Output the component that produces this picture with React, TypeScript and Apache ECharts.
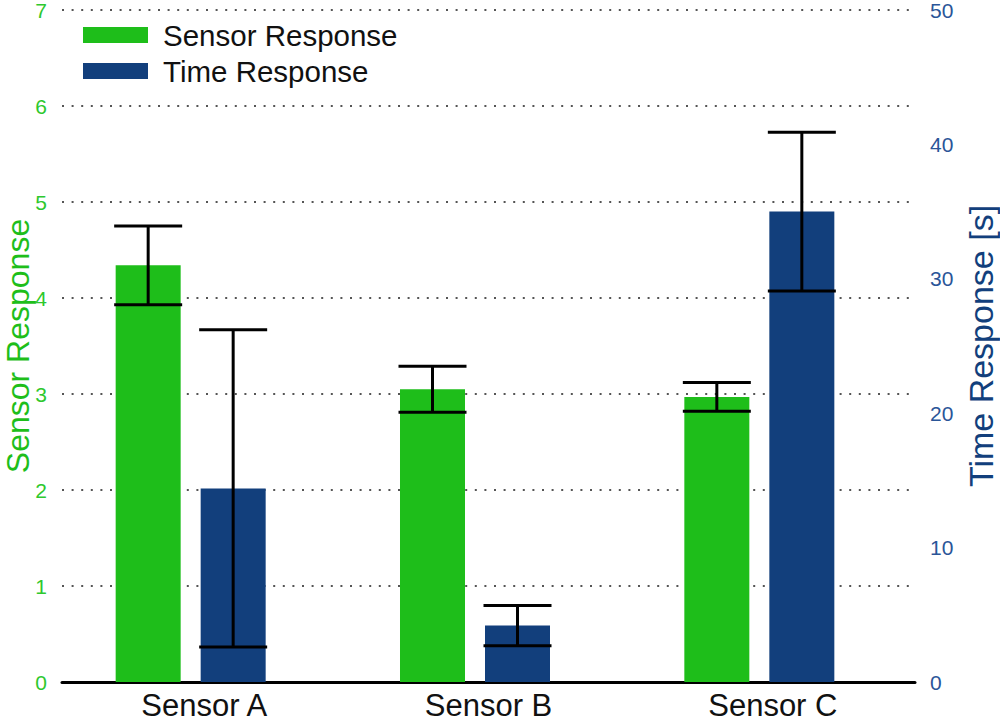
import React, { useEffect, useRef } from "react";
import * as echarts from "echarts";

const categories = ["Sensor A", "Sensor B", "Sensor C"];
const sensorResponse = [4.34, 3.05, 2.97];
const sensorResponseErr = [0.41, 0.24, 0.15];
const timeResponse = [14.4, 4.2, 35.0];
const timeResponseErr = [11.8, 1.5, 5.9];
const leftTicks = [0, 7, 1];
const rightTicks = [0, 50, 10];

const GREEN = "#1ebe1a";
const BLUE = "#123f7c";
const FONT = "Liberation Sans, Arial, Helvetica, sans-serif";

function errorSeries(name: string, means: number[], errs: number[], yAxisIndex: number, offset: number) {
  const data = means.map((m, i) => [i, m - errs[i], m + errs[i]]);
  return {
    name,
    type: "custom",
    yAxisIndex,
    z: 10,
    encode: { x: 0, y: [1, 2] },
    data,
    renderItem: (params: any, api: any) => {
      const i = api.value(0);
      const lo = api.coord([i, api.value(1)]);
      const hi = api.coord([i, api.value(2)]);
      const x = lo[0] + offset;
      const hw = 34;
      const st = { stroke: "#000", lineWidth: 3 };
      return {
        type: "group",
        children: [
          { type: "line", shape: { x1: x, y1: lo[1], x2: x, y2: hi[1] }, style: st },
          { type: "line", shape: { x1: x - hw, y1: lo[1], x2: x + hw, y2: lo[1] }, style: st },
          { type: "line", shape: { x1: x - hw, y1: hi[1], x2: x + hw, y2: hi[1] }, style: st },
        ],
      };
    },
  };
}

export default function App() {
  const ref = useRef<HTMLDivElement>(null);
  useEffect(() => {
    if (!ref.current) return;
    const chart = echarts.init(ref.current, null, { renderer: "svg" });
    chart.setOption({
      animation: false,
      backgroundColor: "#fff",
      textStyle: { fontFamily: FONT },
      grid: { left: 62, right: 85, top: 10, bottom: 41, containLabel: false, outerBoundsMode: "none" },
      legend: {
        orient: "vertical",
        left: 78,
        top: 15,
        itemWidth: 65,
        itemHeight: 16,
        itemGap: 6,
        icon: "rect",
        data: ["Sensor Response", "Time Response"],
        textStyle: { fontSize: 29.5, color: "#111", fontFamily: FONT, padding: [0, 0, 0, 10] },
      },
      xAxis: {
        type: "category",
        data: categories,
        axisLine: { show: true, lineStyle: { color: "#000", width: 3 } },
        axisTick: { show: false },
        axisLabel: { fontSize: 31, color: "#111", margin: 8, fontFamily: FONT },
        splitLine: { show: false },
      },
      yAxis: [
        {
          type: "value",
          min: leftTicks[0],
          max: leftTicks[1],
          interval: leftTicks[2],
          name: "Sensor Response",
          nameLocation: "middle",
          nameRotate: 90,
          nameGap: 28,
          nameMoveOverlap: false,
          nameTextStyle: { fontSize: 32, color: GREEN, fontFamily: FONT },
          axisLine: { show: false },
          axisTick: { show: false },
          axisLabel: { fontSize: 21, color: "#2ec82e", margin: 15, fontFamily: FONT },
          splitLine: { show: true, lineStyle: { color: "#555", width: 2, type: [2, 7.6] } },
        },
        {
          type: "value",
          min: rightTicks[0],
          max: rightTicks[1],
          interval: rightTicks[2],
          position: "right",
          name: "Time Response [s]",
          nameLocation: "middle",
          nameRotate: 90,
          nameGap: 48,
          nameTextStyle: { fontSize: 34, color: BLUE, fontFamily: FONT },
          axisLine: { show: false },
          axisTick: { show: false },
          axisLabel: { fontSize: 21, color: "#2a5598", margin: 15, fontFamily: FONT },
          splitLine: { show: false },
        },
      ],
      series: [
        {
          name: "Sensor Response",
          type: "bar",
          yAxisIndex: 0,
          data: sensorResponse,
          barWidth: 65,
          barGap: "30.77%",
          itemStyle: { color: GREEN },
        },
        {
          name: "Time Response",
          type: "bar",
          yAxisIndex: 1,
          data: timeResponse,
          barWidth: 65,
          barGap: "30.77%",
          itemStyle: { color: BLUE },
        },
        {
          name: "spacer",
          type: "bar",
          yAxisIndex: 0,
          data: categories.map(() => 0),
          barWidth: 7,
          barGap: "30.77%",
          itemStyle: { color: "rgba(0,0,0,0)" },
          silent: true,
        },
        errorSeries("Sensor Response Error", sensorResponse, sensorResponseErr, 0, -56),
        errorSeries("Time Response Error", timeResponse, timeResponseErr, 1, 29),
      ],
    });
    return () => chart.dispose();
  }, []);
  return (
    <div
      ref={ref}
      style={{ position: "fixed", left: 0, top: 0, width: 1000, height: 723 }}
    />
  );
}
